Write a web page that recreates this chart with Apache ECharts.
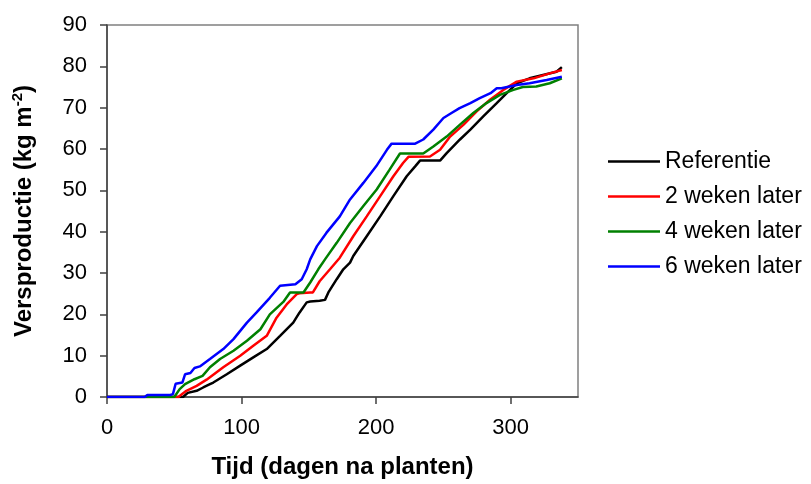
<!DOCTYPE html>
<html>
<head>
<meta charset="utf-8">
<script src="https://cdn.jsdelivr.net/npm/echarts@6/dist/echarts.min.js"></script>
<style>
html,body{margin:0;padding:0;background:#fff;}
#chart{width:811px;height:484px;}
</style>
</head>
<body>
<div id="chart"></div>
<script>
// Data
const seriesNames = ['Referentie', '2 weken later', '4 weken later', '6 weken later'];
const xTicks = [0, 100, 200, 300];

const refDays = [0, 56.5, 60, 66.6, 71.5, 76.5, 79, 89, 99, 108.7, 118.7, 128.6, 138.4, 143, 148.4, 151, 158, 162, 164.5, 170.7, 175.6, 180.6, 183, 193, 203, 212.8, 222.7, 229, 232.6, 247.5, 252.4, 262.3, 270, 279.6, 289.6, 297, 304.5, 314, 324, 334, 338];
const refVals = [0, 0, 1, 1.5, 2.3, 3.1, 3.5, 5.5, 7.6, 9.6, 11.6, 14.8, 18, 20.4, 22.9, 23.1, 23.3, 23.5, 25.3, 28.5, 30.9, 32.5, 34.1, 38.9, 43.7, 48.6, 53.4, 55.8, 57.2, 57.2, 59, 62.3, 64.7, 67.9, 71.1, 73.5, 75.9, 77.1, 77.9, 78.7, 79.8];

const w2Days = [0, 53, 59, 66.6, 74, 86.4, 99, 108.7, 118.7, 126, 133.5, 141, 143, 151, 153, 158, 165.7, 173, 183, 193, 203, 212.8, 220, 224, 240, 247.5, 255, 265, 274.7, 284.6, 294.5, 304.5, 317, 329, 338];
const w2Vals = [0, 0, 1.5, 2.7, 4.2, 7.2, 10, 12.4, 14.8, 19.2, 22.4, 24.9, 25.1, 25.3, 25.3, 28, 30.9, 33.7, 38.9, 43.7, 48.6, 53.4, 56.6, 58.1, 58.2, 59.8, 63, 65.9, 69.1, 71.9, 74.3, 76.3, 77.1, 78.3, 79.1];

const w4Days = [0, 50, 54, 58, 65, 71, 76.5, 84, 94, 104, 114, 121, 131, 136, 146, 151, 157, 162, 170.7, 180.6, 190.5, 200.4, 210, 217.7, 235, 242.5, 252.4, 262.3, 272.2, 282, 292, 302, 309, 319, 329, 338];
const w4Vals = [0, 0, 1.9, 3.1, 4.3, 5.1, 7.2, 9.2, 11.2, 13.6, 16.4, 20, 23, 25.3, 25.3, 27.7, 30.9, 33.3, 37.3, 42.1, 46.2, 50.2, 55, 58.9, 58.9, 60.6, 63, 65.9, 68.7, 71.1, 73.1, 74.3, 75, 75.1, 75.9, 77.1];

const w6Days = [0, 28, 30, 47, 49, 51, 56, 58, 62, 65, 69, 76.5, 86.4, 94, 104, 111, 121, 128.6, 140, 144.7, 148.4, 151, 156, 163, 173, 180.6, 190.5, 200, 208, 211.5, 229, 235, 242.5, 250, 256, 262, 270, 277, 285, 289.6, 293, 304.5, 314, 326.7, 338];
const w6Vals = [0, 0, 0.5, 0.5, 0.7, 3.2, 3.5, 5.5, 5.8, 7, 7.4, 9.2, 11.6, 14, 18, 20.4, 24, 26.9, 27.3, 28.5, 30.9, 33.3, 36.5, 39.7, 43.7, 47.8, 51.8, 55.8, 59.8, 61.3, 61.3, 62.3, 64.7, 67.5, 68.7, 69.9, 71.1, 72.3, 73.5, 74.7, 74.7, 75.5, 75.9, 76.7, 77.5];

const colors = ['#000000', '#FF0000', '#008000', '#0000FF'];
const allDays = [refDays, w2Days, w4Days, w6Days];
const allVals = [refVals, w2Vals, w4Vals, w6Vals];

const FONT = '"Liberation Sans", Arial, sans-serif';

const chart = echarts.init(document.getElementById('chart'), null, {renderer: 'canvas'});
chart.setOption({
  animation: false,
  backgroundColor: '#ffffff',
  textStyle: {fontFamily: FONT},
  grid: {left: 107, top: 25, right: 233, bottom: 86, show: true, borderColor: '#808080', borderWidth: 1.5, backgroundColor: 'transparent'},
  legend: {
    orient: 'vertical', left: 603, top: 145,
    icon: 'rect', itemWidth: 52, itemHeight: 2.5, itemGap: 12,
    textStyle: {fontSize: 23, color: '#000', fontFamily: FONT},
    data: seriesNames
  },
  xAxis: {
    type: 'value', min: 0, max: 350, interval: 100,
    name: 'Tijd (dagen na planten)', nameLocation: 'middle', nameGap: 58,
    nameTextStyle: {fontSize: 24, fontWeight: 'bold', color: '#000', fontFamily: FONT},
    axisLine: {show: true, lineStyle: {color: '#404040', width: 1.5}},
    axisTick: {show: true, length: 7, customValues: xTicks, lineStyle: {color: '#404040', width: 1.5}},
    axisLabel: {fontSize: 22, color: '#000', margin: 20, customValues: xTicks, fontFamily: FONT},
    splitLine: {show: false}
  },
  yAxis: {
    type: 'value', min: 0, max: 90, interval: 10,
    name: '{a|Versproductie (kg m}{s|-2}{a|)}', nameLocation: 'middle', nameGap: 68, nameRotate: 90,
    nameTextStyle: {
      rich: {
        a: {fontSize: 24, fontWeight: 'bold', color: '#000', fontFamily: FONT},
        s: {fontSize: 15, fontWeight: 'bold', color: '#000', fontFamily: FONT, verticalAlign: 'top', padding: [0, 0, 14, 0]}
      }
    },
    axisLine: {show: true, lineStyle: {color: '#404040', width: 1.5}},
    axisTick: {show: true, length: 7, lineStyle: {color: '#404040', width: 1.5}},
    axisLabel: {fontSize: 22, color: '#000', margin: 20, fontFamily: FONT},
    splitLine: {show: false}
  },
  series: seriesNames.map((name, i) => ({
    name: name,
    type: 'line',
    symbol: 'none',
    color: colors[i],
    itemStyle: {color: colors[i]},
    lineStyle: {color: colors[i], width: 2.5},
    data: allDays[i].map((d, j) => [d, allVals[i][j]]),
    z: 2 + i
  }))
});
</script>
</body>
</html>
